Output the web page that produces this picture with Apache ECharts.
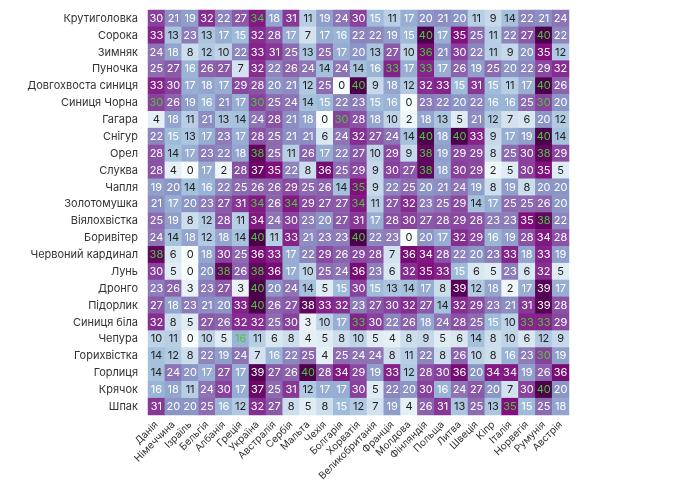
<!DOCTYPE html>
<html>
<head>
<meta charset="utf-8">
<script src="https://cdn.jsdelivr.net/npm/echarts@6/dist/echarts.min.js"></script>
<style>
  html, body { margin: 0; padding: 0; background: #fff; }
  #chart { width: 680px; height: 495px; }
</style>
</head>
<body>
<div id="chart"></div>
<script>
// рядки (птахи)
const birds = ['Крутиголовка', 'Сорока', 'Зимняк', 'Пуночка', 'Довгохвоста синиця', 'Синиця Чорна',
  'Гагара', 'Снігур', 'Орел', 'Слуква', 'Чапля', 'Золотомушка', 'Віялохвістка', 'Боривітер',
  'Червоний кардинал', 'Лунь', 'Дронго', 'Підорлик', 'Синиця біла', 'Чепура', 'Горихвістка',
  'Горлиця', 'Крячок', 'Шпак'];

// стовпці (країни)
const countries = ['Данія', 'Німеччина', 'Ізраїль', 'Бельгія', 'Албанія', 'Греція', 'Україна',
  'Австралія', 'Сербія', 'Мальта', 'Чехія', 'Болгарія', 'Хорватія', 'Великобританія', 'Франція',
  'Молдова', 'Фінляндія', 'Польща', 'Литва', 'Швеція', 'Кіпр', 'Італія', 'Норвегія', 'Румунія', 'Австрія'];

// значення, по рядку на птаха
const values = [
  [30, 21, 19, 32, 22, 27, 34, 18, 31, 11, 19, 24, 30, 15, 11, 17, 20, 21, 20, 11, 9, 14, 22, 21, 24],
  [33, 13, 23, 13, 17, 15, 32, 28, 17, 7, 17, 16, 22, 22, 19, 15, 40, 17, 35, 25, 11, 22, 27, 40, 22],
  [24, 18, 8, 12, 10, 22, 33, 31, 25, 13, 25, 17, 20, 13, 27, 10, 36, 21, 30, 22, 11, 9, 20, 35, 12],
  [25, 27, 16, 26, 27, 7, 32, 22, 26, 24, 14, 24, 14, 16, 33, 17, 33, 17, 26, 19, 25, 20, 22, 29, 32],
  [33, 30, 17, 18, 17, 29, 28, 20, 21, 12, 25, 0, 40, 9, 18, 12, 32, 33, 15, 31, 15, 11, 17, 40, 26],
  [30, 26, 19, 16, 21, 17, 30, 25, 24, 14, 15, 22, 23, 15, 16, 0, 23, 22, 20, 22, 16, 16, 25, 30, 20],
  [4, 18, 11, 21, 13, 14, 24, 28, 21, 18, 0, 30, 28, 18, 10, 2, 18, 13, 5, 21, 12, 7, 6, 20, 12],
  [22, 15, 13, 17, 23, 17, 28, 25, 21, 21, 6, 24, 32, 27, 24, 14, 40, 18, 40, 33, 9, 17, 19, 40, 14],
  [28, 14, 17, 23, 22, 18, 38, 25, 11, 26, 17, 22, 27, 10, 29, 9, 38, 19, 29, 29, 8, 25, 30, 38, 29],
  [28, 4, 0, 17, 2, 28, 37, 35, 22, 8, 36, 25, 29, 9, 30, 27, 38, 18, 30, 29, 2, 5, 30, 35, 5],
  [19, 20, 14, 16, 22, 25, 26, 26, 29, 25, 26, 14, 35, 9, 22, 25, 20, 21, 24, 19, 8, 19, 8, 20, 20],
  [21, 17, 20, 23, 27, 31, 34, 26, 34, 29, 27, 27, 34, 11, 27, 32, 23, 25, 29, 14, 17, 25, 25, 26, 20],
  [25, 19, 8, 12, 28, 11, 34, 24, 30, 23, 20, 27, 31, 17, 28, 30, 27, 28, 29, 28, 23, 23, 35, 38, 22],
  [24, 14, 18, 12, 18, 14, 40, 11, 33, 21, 23, 23, 40, 22, 23, 0, 20, 17, 32, 29, 16, 19, 28, 34, 28],
  [38, 6, 0, 18, 30, 25, 36, 33, 17, 22, 29, 26, 29, 28, 7, 36, 34, 28, 22, 20, 23, 33, 18, 33, 19],
  [30, 5, 0, 20, 38, 26, 38, 36, 17, 10, 25, 24, 36, 23, 6, 32, 35, 33, 15, 6, 5, 23, 6, 32, 5],
  [23, 26, 3, 23, 27, 3, 40, 20, 24, 14, 5, 15, 30, 15, 13, 14, 17, 8, 39, 12, 18, 2, 17, 39, 17],
  [27, 18, 23, 21, 20, 33, 40, 26, 27, 38, 33, 32, 23, 27, 30, 32, 27, 14, 32, 29, 23, 21, 31, 39, 28],
  [32, 8, 5, 27, 26, 32, 32, 25, 30, 3, 10, 17, 33, 30, 22, 26, 18, 24, 28, 25, 15, 10, 33, 33, 29],
  [10, 11, 0, 10, 5, 16, 11, 6, 8, 4, 5, 8, 10, 5, 4, 8, 9, 5, 6, 14, 8, 10, 6, 12, 9],
  [14, 12, 8, 22, 19, 24, 7, 16, 22, 25, 4, 25, 24, 24, 8, 11, 22, 8, 26, 10, 8, 16, 23, 30, 19],
  [14, 24, 20, 17, 27, 17, 39, 27, 26, 40, 28, 34, 29, 19, 33, 12, 28, 30, 36, 20, 34, 34, 19, 26, 36],
  [16, 18, 11, 24, 30, 17, 37, 25, 31, 12, 17, 17, 30, 5, 22, 20, 30, 16, 24, 27, 20, 7, 30, 40, 20],
  [31, 20, 20, 25, 16, 12, 32, 27, 8, 5, 8, 15, 12, 7, 19, 4, 26, 31, 13, 25, 13, 35, 15, 25, 18]
];

// клітинки з зеленим підписом: [рядок, стовпець]
const highlighted = [
  [0, 6], [1, 16], [1, 23], [2, 16], [3, 14], [3, 16], [4, 12], [4, 23],
  [5, 0], [5, 6], [5, 23], [6, 11], [7, 16], [7, 18], [7, 23],
  [8, 6], [8, 16], [8, 23], [9, 16], [10, 12], [11, 6], [11, 8], [11, 12],
  [12, 23], [13, 6], [13, 12], [14, 0], [15, 4], [15, 6], [16, 6], [17, 6],
  [18, 12], [18, 22], [18, 23], [19, 5], [20, 23], [21, 9], [22, 23], [23, 21]
];

const bupu = ['#f7fcfd', '#e0ecf4', '#bfd3e6', '#9ebcda', '#8c96c6', '#8c6bb1', '#88419d', '#810f7c', '#4d004b'];

const hl = new Set(highlighted.map(p => p[0] + '_' + p[1]));
const data = [];
values.forEach((row, r) => {
  row.forEach((v, c) => {
    let color = v >= 15 ? '#ffffff' : '#222222';
    if (hl.has(r + '_' + c)) color = '#4fc43f';
    data.push({ value: [c, r, v], label: { color: color } });
  });
});

const myChart = echarts.init(document.getElementById('chart'));
const option = {
  animation: false,
  grid: { left: 148, top: 10, width: 421, height: 405 },
  xAxis: {
    type: 'category',
    data: countries,
    axisLine: { show: false },
    axisTick: { show: false },
    axisLabel: { rotate: 45, fontSize: 10, color: '#333', fontFamily: 'Inter', margin: 8, interval: 0 },
    splitArea: { show: false }
  },
  yAxis: {
    type: 'category',
    data: birds,
    inverse: true,
    axisLine: { show: false },
    axisTick: { show: false },
    axisLabel: { fontSize: 11, color: '#333', fontFamily: 'Inter', margin: 10, interval: 0 }
  },
  visualMap: {
    show: false,
    min: 0,
    max: 40,
    dimension: 2,
    inRange: { color: bupu }
  },
  series: [
    {
      type: 'heatmap',
      data: data,
      label: { show: true, fontSize: 11, fontFamily: 'Inter' },
      itemStyle: { borderWidth: 0 }
    }
  ]
};
myChart.setOption(option);
</script>
</body>
</html>
